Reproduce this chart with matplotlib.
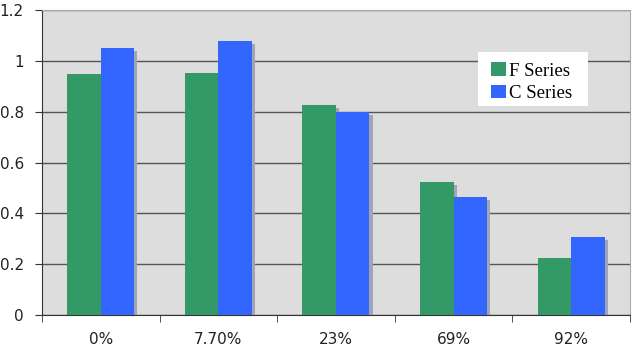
import matplotlib
matplotlib.use("Agg")
import matplotlib.pyplot as plt
from matplotlib.patches import Rectangle
import numpy as np

categories = ["0%", "7.70%", "23%", "69%", "92%"]
f_series = [0.949, 0.954, 0.827, 0.522, 0.226]
c_series = [1.052, 1.080, 0.800, 0.465, 0.308]

green = "#339966"
blue = "#3366FF"
shadow = "#a0a4b4"

fig = plt.figure(figsize=(6.35, 3.49), dpi=100, facecolor="white")
ax = fig.add_axes([0.0661, 0.0974, 0.9260, 0.8739])
ax.set_facecolor("#DDDDDD")

x = np.arange(len(categories))
w = 0.285

# shadows
ax.bar(x - w/2 + 0.026, np.array(f_series) - 0.012, w, color=shadow, zorder=2)
ax.bar(x + w/2 + 0.026, np.array(c_series) - 0.012, w, color=shadow, zorder=2)

ax.bar(x - w/2, f_series, w, color=green, label="F Series", zorder=3)
ax.bar(x + w/2, c_series, w, color=blue, label="C Series", zorder=3)

ax.set_xlim(-0.5, len(categories) - 0.5)
ax.set_ylim(0, 1.2)
ax.set_yticks([0, 0.2, 0.4, 0.6, 0.8, 1, 1.2])
ax.set_yticklabels(["0", "0.2", "0.4", "0.6", "0.8", "1", "1.2"])
ax.set_xticks(x)
ax.set_xticklabels(categories)
ax.set_xticks(np.arange(len(categories) + 1) - 0.5, minor=True)
ax.tick_params(axis="x", which="major", length=0, pad=12, labelsize=11, colors="#222222")
ax.tick_params(axis="x", which="minor", length=5, color="#333333", direction="out")
ax.tick_params(axis="y", length=5, color="#333333", pad=8, labelsize=11, labelcolor="#222222")

ax.yaxis.grid(True, color="#555555", linewidth=1.0, zorder=1)
ax.set_axisbelow(True)

ax.spines["left"].set_color("#333333")
ax.spines["bottom"].set_color("#333333")
ax.spines["top"].set_color("#AAAAAA")
ax.spines["right"].set_color("#AAAAAA")

# white legend box
ax.add_patch(Rectangle((0.7415, 0.6852), 0.1871, 0.1771, transform=ax.transAxes,
                       facecolor="white", edgecolor="none", zorder=5))
leg = ax.legend(loc="upper left", bbox_to_anchor=(0.763, 0.828), frameon=False,
                prop={"family": "Liberation Serif", "size": 13.5},
                handlelength=0.8, handleheight=0.75, handletextpad=0.2,
                labelspacing=0.25, borderpad=0, borderaxespad=0)
leg.set_zorder(6)

plt.savefig("out.png", dpi=100)
plt.close()
